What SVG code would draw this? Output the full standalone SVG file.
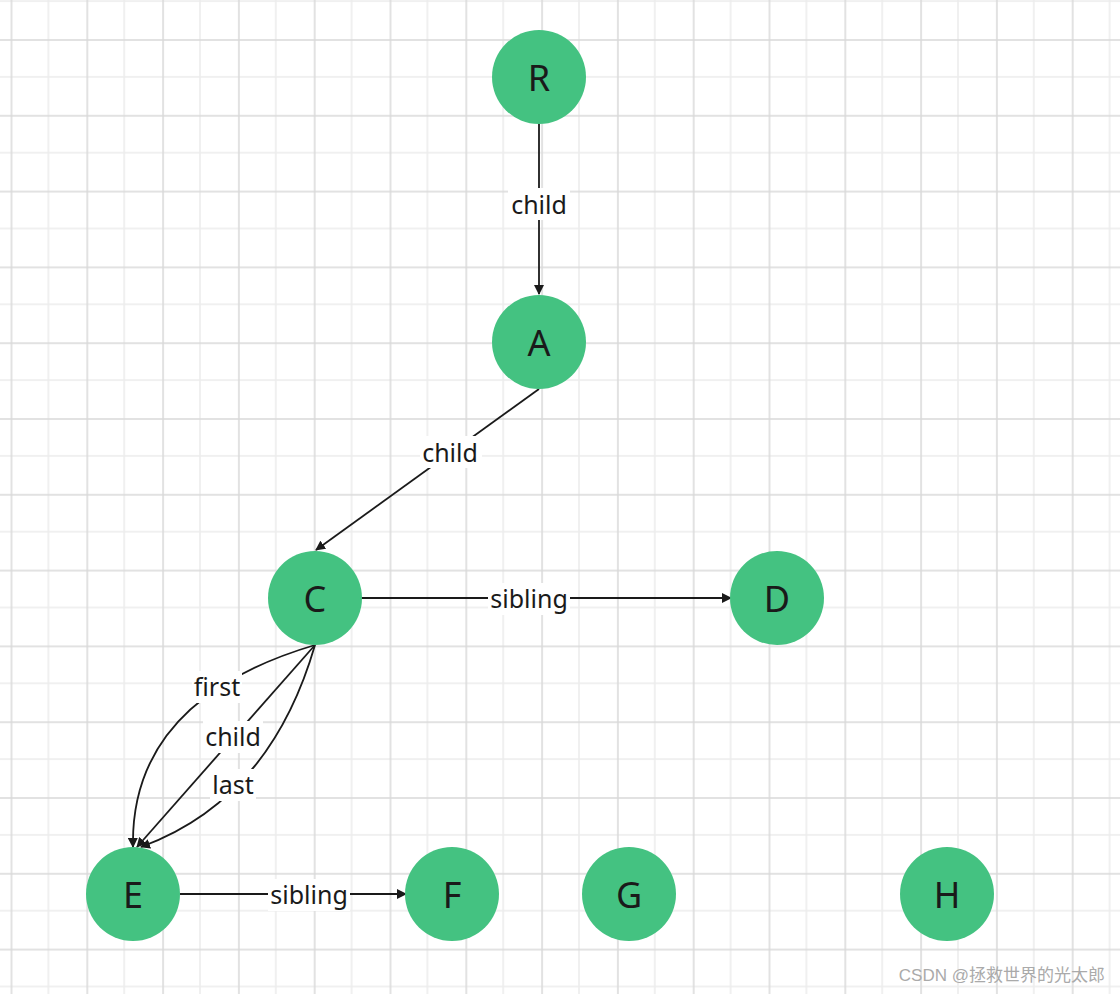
<svg xmlns="http://www.w3.org/2000/svg" width="1120" height="994" viewBox="0 0 1120 994">
<style>
.n{fill:#44c281}
.nt{font-family:"Noto Sans","Open Sans",sans-serif;font-size:36px;fill:#1a1a1a;text-anchor:middle;dominant-baseline:central}
.e{stroke:#1a1a1a;stroke-width:1.8;fill:none}
.lb{font-family:"Noto Sans","Open Sans",sans-serif;font-size:25px;fill:#1a1a1a;text-anchor:middle;dominant-baseline:central}
.bg{fill:#fff}
</style>
<defs>
<pattern id="g" width="75.8" height="75.8" x="10.5" y="39" patternUnits="userSpaceOnUse">
<path d="M37.9 0V75.8M0 37.9H75.8" stroke="#ececec" stroke-width="1.5"/>
<path d="M1 0V75.8M0 1H75.8" stroke="#d9d9d9" stroke-width="1.5"/>
</pattern>
<marker id="a" markerWidth="10" markerHeight="10" refX="9" refY="5" orient="auto" markerUnits="userSpaceOnUse"><path d="M0 0L10 5L0 10z" fill="#1a1a1a"/></marker>
</defs>
<rect width="1120" height="994" fill="#fff"/>
<rect width="1120" height="994" fill="url(#g)"/>
<g id="edges">
<path class="e" d="M539 124V294" marker-end="url(#a)"/>
<path class="e" d="M539 389L316 550" marker-end="url(#a)"/>
<path class="e" d="M361 598H731" marker-end="url(#a)"/>
<path class="e" d="M180 894H406" marker-end="url(#a)"/>
<path class="e" d="M315 645Q130 700 133 847" marker-end="url(#a)"/>
<path class="e" d="M315 645L137 847" marker-end="url(#a)"/>
<path class="e" d="M315 645Q270 800 141 847" marker-end="url(#a)"/>
<rect class="bg" x="508" y="188" width="62" height="32"/><text class="lb" x="539" y="204">child</text>
<rect class="bg" x="420" y="436" width="62" height="32"/><text class="lb" x="450" y="452">child</text>
<rect class="bg" x="488" y="583" width="82" height="32"/><text class="lb" x="529" y="598">sibling</text>
<rect class="bg" x="268" y="879" width="82" height="32"/><text class="lb" x="309" y="894">sibling</text>
<rect class="bg" x="192" y="671" width="50" height="32"/><text class="lb" x="217" y="686">first</text>
<rect class="bg" x="203" y="721" width="60" height="32"/><text class="lb" x="233" y="736">child</text>
<rect class="bg" x="210" y="769" width="46" height="32"/><text class="lb" x="233" y="784">last</text>
</g>
<g id="R"><circle class="n" cx="539" cy="77" r="47"/><text class="nt" x="539" y="77">R</text></g>
<g id="A"><circle class="n" cx="539" cy="342" r="47"/><text class="nt" x="539" y="342">A</text></g>
<g id="C"><circle class="n" cx="315" cy="598" r="47"/><text class="nt" x="315" y="598">C</text></g>
<g id="D"><circle class="n" cx="777" cy="598" r="47"/><text class="nt" x="777" y="598">D</text></g>
<g id="E"><circle class="n" cx="133" cy="894" r="47"/><text class="nt" x="133" y="894">E</text></g>
<g id="F"><circle class="n" cx="452" cy="894" r="47"/><text class="nt" x="452" y="894">F</text></g>
<g id="G"><circle class="n" cx="629" cy="894" r="47"/><text class="nt" x="629" y="894">G</text></g>
<g id="H"><circle class="n" cx="947" cy="894" r="47"/><text class="nt" x="947" y="894">H</text></g>
<text x="1105" y="975" font-family="'Liberation Sans','Noto Sans CJK SC',sans-serif" font-size="17" fill="#aaaaaa" text-anchor="end" dominant-baseline="central">CSDN @拯救世界的光太郎</text>
</svg>
